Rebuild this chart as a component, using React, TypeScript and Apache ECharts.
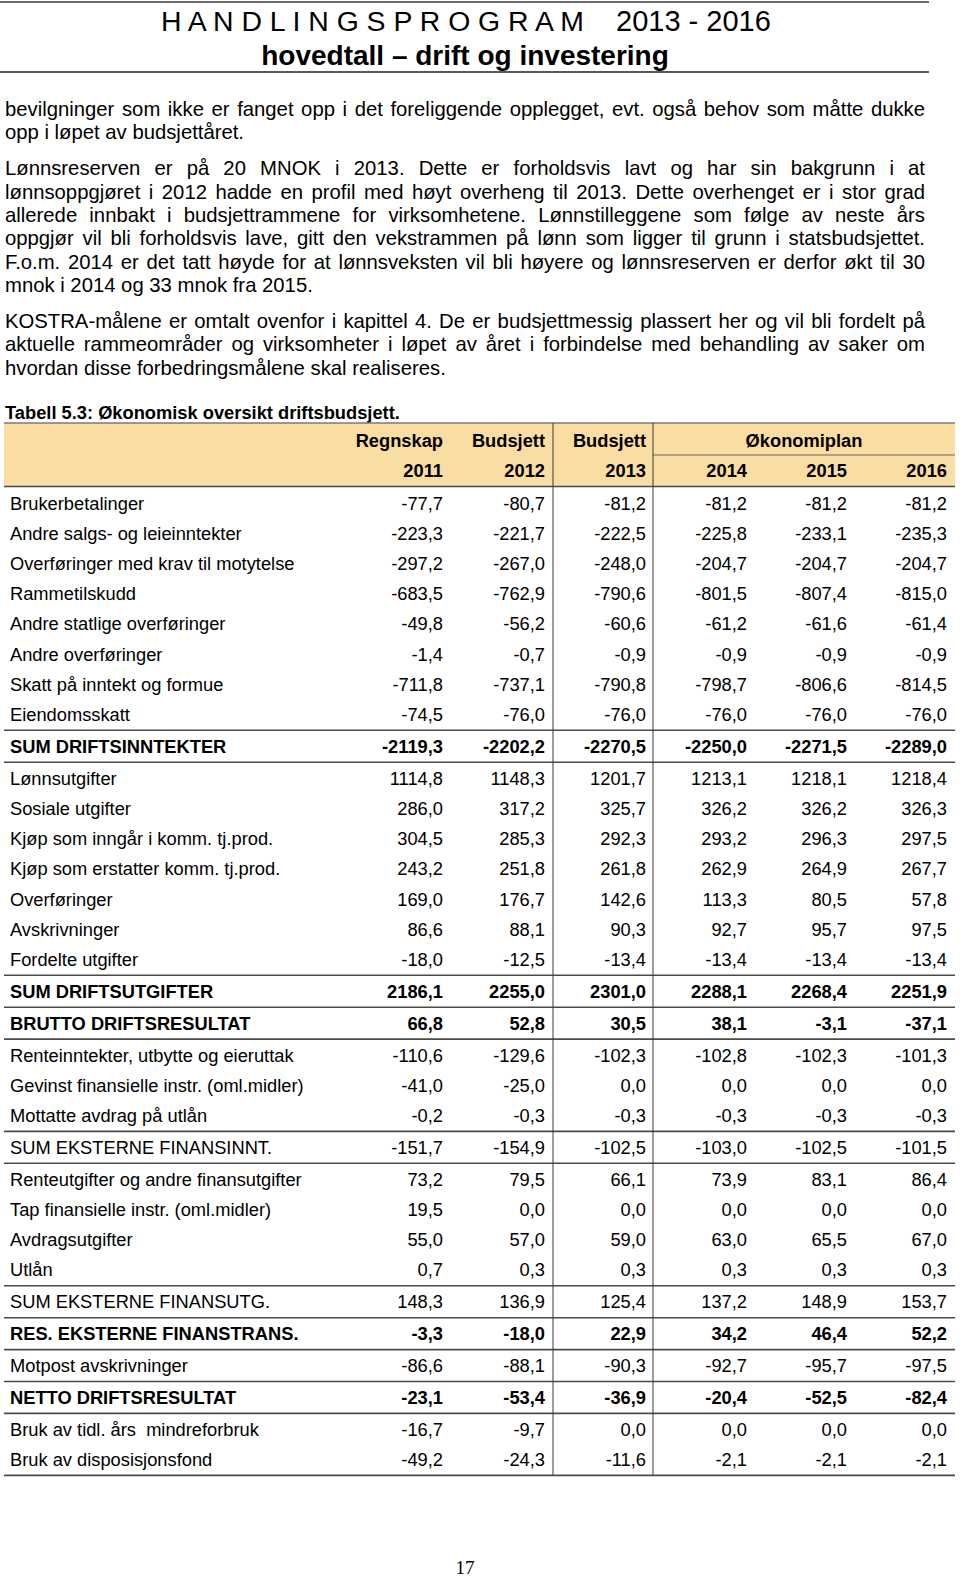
import React, { useEffect, useRef } from "react";
import * as echarts from "echarts";

// ---------- DATA ----------
const titleLetters = "H A N D L I N G S P R O G R A M";
const titleYears = "2013 - 2016";
const subTitle = "hovedtall \u2013 drift og investering";

const paragraphs: string[][] = [
  [
    "bevilgninger som ikke er fanget opp i det foreliggende opplegget, evt. også behov som måtte dukke",
    "opp i løpet av budsjettåret.",
  ],
  [
    "Lønnsreserven er på 20 MNOK i 2013. Dette er forholdsvis lavt og har sin bakgrunn i at",
    "lønnsoppgjøret i 2012 hadde en profil med høyt overheng til 2013. Dette overhenget er i stor grad",
    "allerede innbakt i budsjettrammene for virksomhetene. Lønnstilleggene som følge av neste års",
    "oppgjør vil bli forholdsvis lave, gitt den vekstrammen på lønn som ligger til grunn i statsbudsjettet.",
    "F.o.m. 2014 er det tatt høyde for at lønnsveksten vil bli høyere og lønnsreserven er derfor økt til 30",
    "mnok i 2014 og 33 mnok fra 2015.",
  ],
  [
    "KOSTRA-målene er omtalt ovenfor i kapittel 4. De er budsjettmessig plassert her og vil bli fordelt på",
    "aktuelle rammeområder og virksomheter i løpet av året i forbindelse med behandling av saker om",
    "hvordan disse forbedringsmålene skal realiseres.",
  ],
];

const caption = "Tabell 5.3: Økonomisk oversikt driftsbudsjett.";
const headerTop = ["Regnskap", "Budsjett", "Budsjett"];
const headerPlan = "Økonomiplan";
const years = ["2011", "2012", "2013", "2014", "2015", "2016"];

const rowLabels = [
  "Brukerbetalinger",
  "Andre salgs- og leieinntekter",
  "Overføringer med krav til motytelse",
  "Rammetilskudd",
  "Andre statlige overføringer",
  "Andre overføringer",
  "Skatt på inntekt og formue",
  "Eiendomsskatt",
  "SUM DRIFTSINNTEKTER",
  "Lønnsutgifter",
  "Sosiale utgifter",
  "Kjøp som inngår i komm. tj.prod.",
  "Kjøp som erstatter komm. tj.prod.",
  "Overføringer",
  "Avskrivninger",
  "Fordelte utgifter",
  "SUM DRIFTSUTGIFTER",
  "BRUTTO DRIFTSRESULTAT",
  "Renteinntekter, utbytte og eieruttak",
  "Gevinst finansielle instr. (oml.midler)",
  "Mottatte avdrag på utlån",
  "SUM EKSTERNE FINANSINNT.",
  "Renteutgifter og andre finansutgifter",
  "Tap finansielle instr. (oml.midler)",
  "Avdragsutgifter",
  "Utlån",
  "SUM EKSTERNE FINANSUTG.",
  "RES. EKSTERNE FINANSTRANS.",
  "Motpost avskrivninger",
  "NETTO DRIFTSRESULTAT",
  "Bruk av tidl. års  mindreforbruk",
  "Bruk av disposisjonsfond",
];

const values2011 = [-77.7, -223.3, -297.2, -683.5, -49.8, -1.4, -711.8, -74.5, -2119.3, 1114.8, 286.0, 304.5, 243.2, 169.0, 86.6, -18.0, 2186.1, 66.8, -110.6, -41.0, -0.2, -151.7, 73.2, 19.5, 55.0, 0.7, 148.3, -3.3, -86.6, -23.1, -16.7, -49.2];
const values2012 = [-80.7, -221.7, -267.0, -762.9, -56.2, -0.7, -737.1, -76.0, -2202.2, 1148.3, 317.2, 285.3, 251.8, 176.7, 88.1, -12.5, 2255.0, 52.8, -129.6, -25.0, -0.3, -154.9, 79.5, 0.0, 57.0, 0.3, 136.9, -18.0, -88.1, -53.4, -9.7, -24.3];
const values2013 = [-81.2, -222.5, -248.0, -790.6, -60.6, -0.9, -790.8, -76.0, -2270.5, 1201.7, 325.7, 292.3, 261.8, 142.6, 90.3, -13.4, 2301.0, 30.5, -102.3, 0.0, -0.3, -102.5, 66.1, 0.0, 59.0, 0.3, 125.4, 22.9, -90.3, -36.9, 0.0, -11.6];
const values2014 = [-81.2, -225.8, -204.7, -801.5, -61.2, -0.9, -798.7, -76.0, -2250.0, 1213.1, 326.2, 293.2, 262.9, 113.3, 92.7, -13.4, 2288.1, 38.1, -102.8, 0.0, -0.3, -103.0, 73.9, 0.0, 63.0, 0.3, 137.2, 34.2, -92.7, -20.4, 0.0, -2.1];
const values2015 = [-81.2, -233.1, -204.7, -807.4, -61.6, -0.9, -806.6, -76.0, -2271.5, 1218.1, 326.2, 296.3, 264.9, 80.5, 95.7, -13.4, 2268.4, -3.1, -102.3, 0.0, -0.3, -102.5, 83.1, 0.0, 65.5, 0.3, 148.9, 46.4, -95.7, -52.5, 0.0, -2.1];
const values2016 = [-81.2, -235.3, -204.7, -815.0, -61.4, -0.9, -814.5, -76.0, -2289.0, 1218.4, 326.3, 297.5, 267.7, 57.8, 97.5, -13.4, 2251.9, -37.1, -101.3, 0.0, -0.3, -101.5, 86.4, 0.0, 67.0, 0.3, 153.7, 52.2, -97.5, -82.4, 0.0, -2.1];

// rows framed by rules above and below; bold subset
const summaryRows = [8, 16, 17, 21, 26, 27, 29];
const boldRows = [8, 16, 17, 27, 29];

const pageNumber = "17";

// ---------- LAYOUT ----------
const FONT = '"Liberation Sans", Arial, Helvetica, sans-serif';
const SERIF = '"Liberation Serif", "Times New Roman", serif';

const fmt = (v: number) => v.toFixed(1).replace(".", ",");

export default function App() {
  const ref = useRef<HTMLDivElement>(null);

  useEffect(() => {
    document.body.style.margin = "0";
    if (!ref.current) return;
    const chart = echarts.init(ref.current, undefined, { renderer: "svg" });

    const canvas = document.createElement("canvas");
    const ctx = canvas.getContext("2d")!;
    const measure = (t: string, font: string) => {
      ctx.font = font;
      return ctx.measureText(t).width;
    };

    const els: any[] = [];
    const txt = (
      text: string,
      x: number,
      y: number,
      size: number,
      opts: { bold?: boolean; align?: string; family?: string; fill?: string } = {}
    ) => {
      els.push({
        type: "text",
        x,
        y,
        silent: true,
        style: {
          text,
          fill: opts.fill || "#000",
          fontSize: size,
          fontFamily: opts.family || FONT,
          fontWeight: opts.bold ? "bold" : "normal",
          textAlign: opts.align || "left",
          textVerticalAlign: "middle",
        },
      });
    };
    const line = (x1: number, y1: number, x2: number, y2: number, stroke: string, w: number) => {
      els.push({
        type: "line",
        silent: true,
        shape: { x1, y1, x2, y2 },
        style: { stroke, lineWidth: w },
      });
    };

    // header
    line(0, 2, 929, 2, "#6b6b6b", 2.2);
    txt(titleLetters, 161, 21, 28.4);
    txt(titleYears, 616, 21, 29);
    txt(subTitle, 465, 55, 28, { bold: true, align: "center" });
    line(0, 72, 929, 72, "#222", 1.6);

    // body paragraphs
    const bodySize = 20.3;
    const bodyFont = `${bodySize}px ${FONT}`;
    const left = 5;
    const right = 925;
    const pitch = 23.3;
    let y = 109;
    paragraphs.forEach((lines, pi) => {
      if (pi > 0) y += 12.8;
      lines.forEach((ln, li) => {
        const justify = li < lines.length - 1;
        if (!justify) {
          txt(ln, left, y, bodySize);
        } else {
          const words = ln.split(" ");
          const widths = words.map((w) => measure(w, bodyFont));
          const total = widths.reduce((a, b) => a + b, 0);
          const gap = (right - left - total) / (words.length - 1);
          let x = left;
          words.forEach((w, wi) => {
            txt(w, x, y, bodySize);
            x += widths[wi] + gap;
          });
        }
        y += pitch;
      });
    });

    const tSize = 18.3;

    // caption
    txt(caption, 5, 412, tSize, { bold: true });

    // table geometry
    const tLeft = 4;
    const tRight = 955;
    const tTop = 423;
    const headBottom = 486.5;
    const colRight = [443, 545, 646, 747, 847, 947];
    const vLines = [553, 653];
    const rowPitch = 30.2;
    const ruleExtra = 1.7;

    // rules before rows
    const ruleSet = new Set<number>();
    summaryRows.forEach((r) => {
      ruleSet.add(r);
      ruleSet.add(r + 1);
    });

    const rowY: number[] = [];
    let rules = 0;
    rowLabels.forEach((_, i) => {
      if (ruleSet.has(i)) rules++;
      rowY.push(503 + i * rowPitch + rules * ruleExtra);
    });
    const tBottom = rowY[rowY.length - 1] + 15.8;

    // header background
    els.push({
      type: "rect",
      silent: true,
      shape: { x: tLeft, y: tTop, width: tRight - tLeft, height: headBottom - tTop },
      style: { fill: "#F9DDA3" },
    });
    line(tLeft, tTop, tRight, tTop, "#7a7a7a", 1.4);
    line(vLines[1], 455, tRight, 455, "#9a8c70", 1.4);
    headerTop.forEach((h, i) => txt(h, colRight[i], 440, tSize, { bold: true, align: "right" }));
    txt(headerPlan, (vLines[1] + tRight) / 2, 440, tSize, { bold: true, align: "center" });
    years.forEach((yr, i) => txt(yr, colRight[i], 470, tSize, { bold: true, align: "right" }));
    line(tLeft, headBottom, tRight, headBottom, "#4a4a4a", 1.6);

    // rows
    const series = [values2011, values2012, values2013, values2014, values2015, values2016];
    rowLabels.forEach((label, i) => {
      const bold = boldRows.includes(i);
      txt(label, 10, rowY[i], tSize, { bold });
      series.forEach((vals, c) => txt(fmt(vals[i]), colRight[c], rowY[i], tSize, { bold, align: "right" }));
      if (ruleSet.has(i)) {
        const ly = rowY[i] - 16;
        line(tLeft, ly, tRight, ly, "#4a4a4a", 1.6);
      }
    });
    line(tLeft, tBottom, tRight, tBottom, "#4a4a4a", 1.6);

    vLines.forEach((vx) => line(vx, tTop, vx, tBottom, "#3a3a3a", 1));

    // page number
    txt(pageNumber, 465, 1567, 19, { family: SERIF, align: "center" });

    chart.setOption({
      animation: false,
      graphic: { elements: els },
    });

    return () => chart.dispose();
  }, []);

  return (
    <div
      ref={ref}
      style={{ position: "absolute", left: 0, top: 0, width: 960, height: 1579, background: "#fff" }}
    />
  );
}
